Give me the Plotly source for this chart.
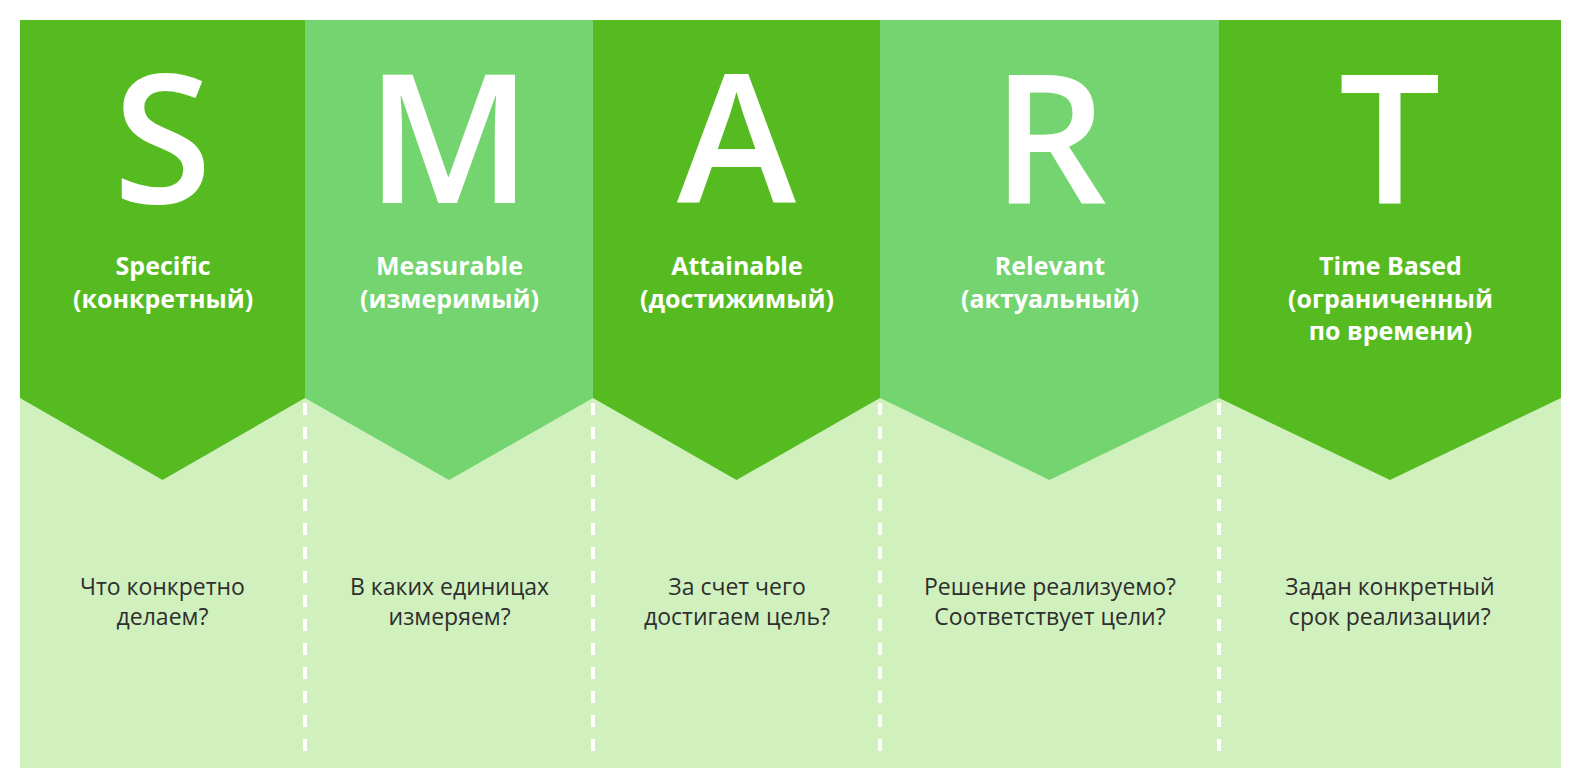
import plotly.graph_objects as go

# column data
letters = ["S", "M", "A", "R", "T"]
titles = ["Specific<br>(конкретный)", "Measurable<br>(измеримый)", "Attainable<br>(достижимый)",
          "Relevant<br>(актуальный)", "Time Based<br>(ограниченный<br>по времени)"]
questions = ["Что конкретно<br>делаем?", "В каких единицах<br>измеряем?", "За счет чего<br>достигаем цель?",
             "Решение реализуемо?<br>Соответствует цели?", "Задан конкретный<br>срок реализации?"]
edges = [12, 297, 585, 872, 1211, 1553]

DARK = "#56BB20"
MID = "#74D46F"
PALE = "#D0F0BE"

W, H = 1585, 779
TOP, BOTTOM = 12, 760
fig = go.Figure()
fig.update_layout(width=W, height=H, margin=dict(l=0, r=0, t=0, b=0),
                  plot_bgcolor="white", paper_bgcolor="white", showlegend=False)
fig.update_xaxes(range=[0, W], visible=False, fixedrange=True)
fig.update_yaxes(range=[H, 0], visible=False, fixedrange=True)

fig.add_shape(type="rect", x0=edges[0], x1=edges[-1], y0=TOP, y1=BOTTOM,
              fillcolor=PALE, line_width=0, layer="below")

for i, letter in enumerate(letters):
    x0, x1 = edges[i], edges[i + 1]
    mid = (x0 + x1) / 2
    col = DARK if i % 2 == 0 else MID
    fig.add_shape(type="path", path=f"M{x0},{TOP} L{x1},{TOP} L{x1},390 L{mid},472 L{x0},390 Z",
                  fillcolor=col, line_width=0, layer="below")
    if i > 0:
        fig.add_shape(type="line", x0=x0, x1=x0, y0=395, y1=752,
                      line=dict(color="white", width=4, dash="dash"))
    fig.add_annotation(x=mid, y=125, text=letter, showarrow=False,
                       font=dict(family="Open Sans", size=180, color="white", weight=600),
                       yanchor="middle")
    fig.add_annotation(x=mid, y=238, text=f"<b>{titles[i]}</b>", showarrow=False, yanchor="top",
                       font=dict(family="Open Sans", size=25, color="white"), align="center")
    fig.add_annotation(x=mid, y=560, text=questions[i], showarrow=False, yanchor="top",
                       font=dict(family="Open Sans", size=23, color="#2e2e2e"), align="center")

fig.write_html("out.html")
